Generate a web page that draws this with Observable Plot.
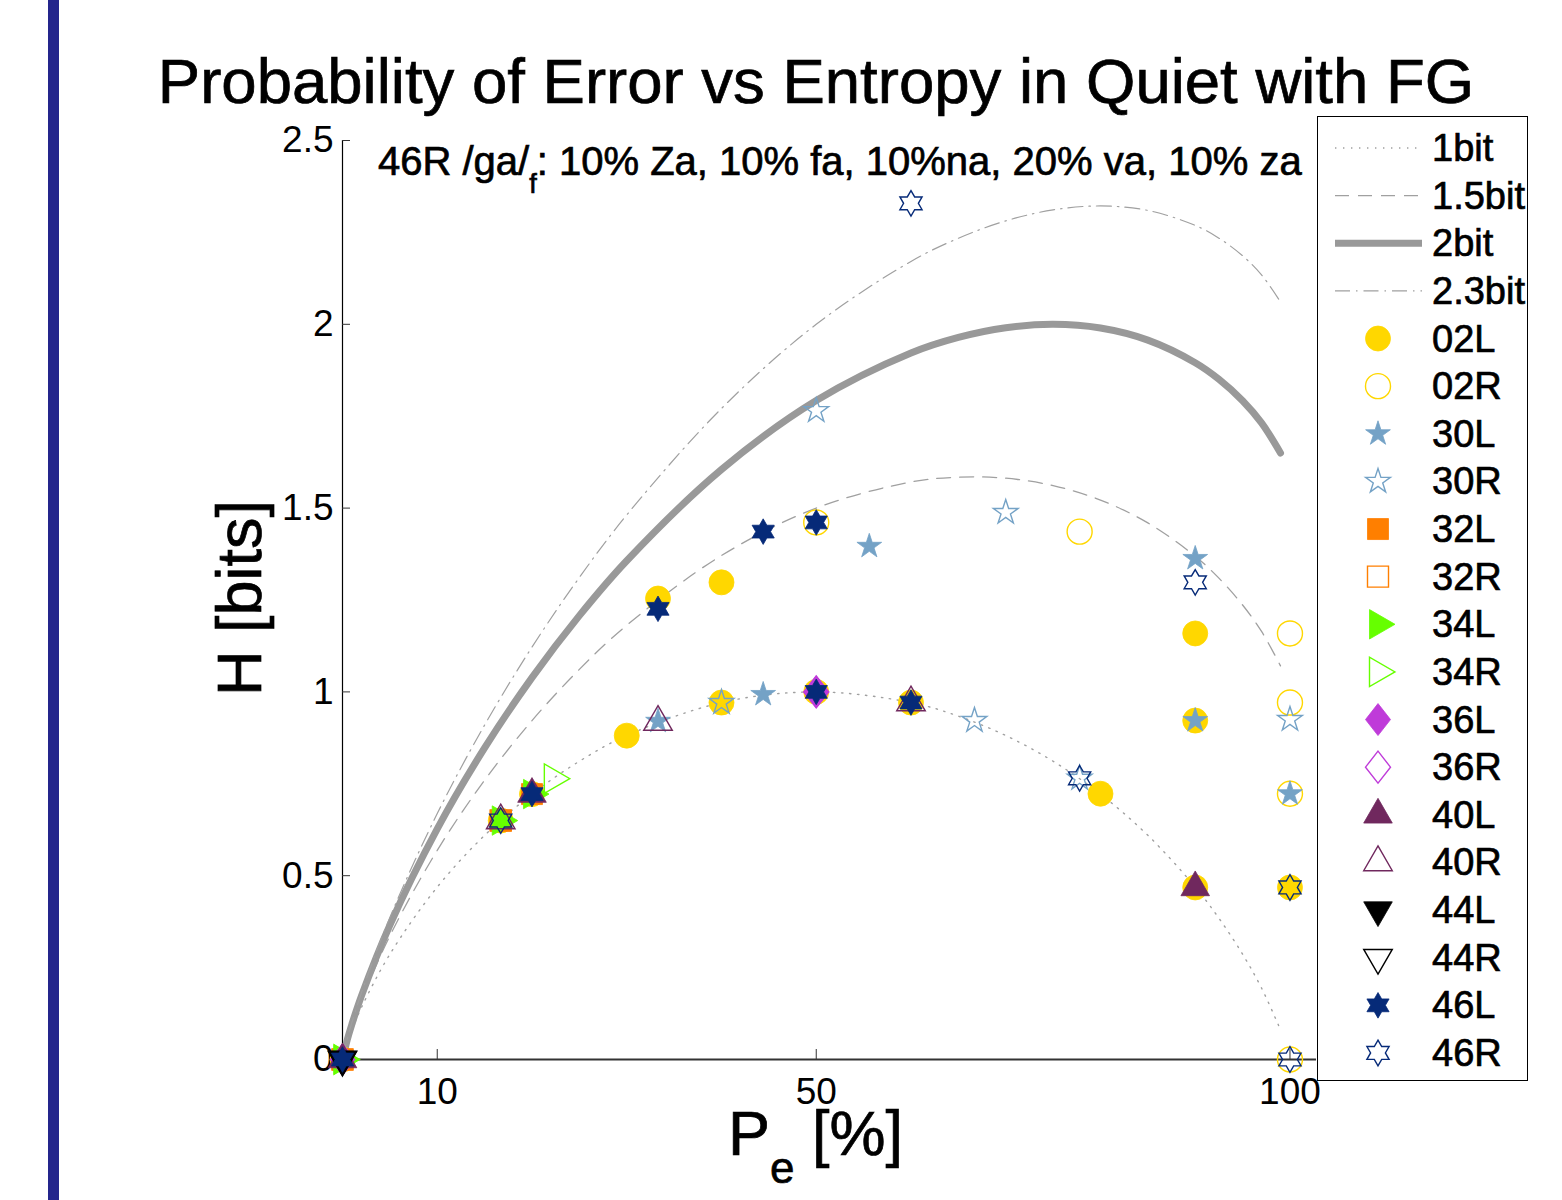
<!DOCTYPE html>
<html><head><meta charset="utf-8">
<script src="https://cdn.jsdelivr.net/npm/d3@7"></script>
<script src="https://cdn.jsdelivr.net/npm/@observablehq/plot@0.6"></script>
<style>
html,body{margin:0;padding:0;background:#fff;}
body{width:1562px;height:1200px;position:relative;overflow:hidden;font-family:"Liberation Sans",Arial,sans-serif;}
#chart{position:absolute;left:0;top:0;}
#bar{position:absolute;left:48px;top:0;width:11px;height:1200px;background:#24258c;z-index:3;}
#legend{position:absolute;left:1317px;top:116px;width:209px;height:963px;border:1.5px solid #000;background:#fff;overflow:hidden;z-index:2;}
.heavy{stroke:#000;stroke-width:0.7px;paint-order:stroke;}
</style></head>
<body>
<div id="bar"></div>
<div id="chart"></div>
<div id="legend"></div>
<script>
// ---------------- data ----------------
const xTicks = [10, 50, 100];
const yTicks = [0, 0.5, 1, 1.5, 2, 2.5];

const curveNames = ["1bit", "1.5bit", "2bit", "2.3bit"];
const curvePe = [0, 0.5, 1, 2, 5, 10, 15, 20, 25, 30, 40, 50, 60, 65, 70, 75, 80, 85, 90, 92.5, 95, 97, 99];
const h1bit  = [0, 0.0454, 0.0808, 0.1414, 0.2864, 0.469, 0.6098, 0.7219, 0.8113, 0.8813, 0.971, 1.0, 0.971, 0.9341, 0.8813, 0.8113, 0.7219, 0.6098, 0.469, 0.3844, 0.2864, 0.1944, 0.0808];
const h15bit = [0, 0.0504, 0.0908, 0.1614, 0.3364, 0.569, 0.7598, 0.9219, 1.0613, 1.1813, 1.371, 1.5, 1.571, 1.5841, 1.5813, 1.5613, 1.5219, 1.4598, 1.369, 1.3094, 1.2364, 1.1644, 1.0708];
const h2bit  = [0, 0.0533, 0.0967, 0.1731, 0.3657, 0.6275, 0.8476, 1.0389, 1.2075, 1.3568, 1.605, 1.7925, 1.922, 1.9644, 1.9908, 2.0, 1.9899, 1.957, 1.8955, 1.8505, 1.7922, 1.7318, 1.65];
const h23bit = [0, 0.0554, 0.1008, 0.1814, 0.3864, 0.669, 0.9098, 1.1219, 1.3113, 1.4813, 1.771, 2.0, 2.171, 2.2341, 2.2813, 2.3113, 2.3219, 2.3098, 2.269, 2.2344, 2.1864, 2.1344, 2.0608];

const seriesNames = ["02L","02R","30L","30R","32L","32R","34L","34R","36L","36R","40L","40R","44L","44R","46L","46R"];
const seriesColors = ["#FFD700","#FFD700","#74A2C6","#74A2C6","#FF7F00","#FF7F00","#66FF00","#66FF00","#BF3BD9","#BF3BD9","#70285E","#70285E","#000000","#000000","#062A78","#062A78"];
const seriesFilled = [true,false,true,false,true,false,true,false,true,false,true,false,true,false,true,false];
const seriesSymbols = ["circle","circle","pentagram","pentagram","square","square","triRight","triRight","diamond","diamond","triUp","triUp","triDown","triDown","hexagram","hexagram"];

// [Pe %, H bits]
const pts02L = [[0,0],[16.7,0.65],[20,0.722],[30,0.881],[33.3,1.254],[40,0.971],[40,1.298],[50,1.0],[60,0.971],[80,0.723],[90,1.159],[90,0.922],[90,0.468],[100,0.468]];
const pts02R = [[50,1.461],[77.8,1.436],[100,1.159],[100,0.971],[100,0.723],[100,0]];
const pts30L = [[33.3,0.92],[44.4,0.993],[55.6,1.396],[90,1.363],[90,0.922],[100,0.723]];
const pts30R = [[40,0.971],[50,1.765],[66.7,0.922],[70,1.488],[77.8,0.765],[100,0.925]];
const pts32L = [[0,0],[16.7,0.65],[20,0.722]];
const pts32R = [[0,0],[16.7,0.65]];
const pts34L = [[0,0],[16.7,0.65],[20,0.722]];
const pts34R = [[0,0],[22.2,0.764]];
const pts36L = [[0,0],[50,1.0]];
const pts36R = [[50,1.0]];
const pts40L = [[0,0],[20,0.722],[90,0.468]];
const pts40R = [[16.7,0.65],[33.3,0.918],[60,0.971]];
const pts44L = [[0,0]];
const pts44R = [[0,0]];
const pts46L = [[0,0],[20,0.722],[33.3,1.226],[44.4,1.436],[50,1.461],[50,1.0],[60,0.971]];
const pts46R = [[16.7,0.65],[60,2.329],[77.8,0.765],[90,1.298],[100,0.468],[100,0]];
const seriesPoints = [pts02L,pts02R,pts30L,pts30R,pts32L,pts32R,pts34L,pts34R,pts36L,pts36R,pts40L,pts40R,pts44L,pts44R,pts46L,pts46R];

// ---------------- styles ----------------
const curveStyles = [
  {stroke:"#a0a0a0", strokeWidth:1.4, strokeDasharray:"1.4,6.6"},
  {stroke:"#a0a0a0", strokeWidth:1.3, strokeDasharray:"14,9"},
  {stroke:"#999999", strokeWidth:7, strokeDasharray:null},
  {stroke:"#a0a0a0", strokeWidth:1.2, strokeDasharray:"15,6,1.5,6"}
];

function star(c, n, ro, ri) {
  for (let i = 0; i < 2*n; i++) {
    const a = -Math.PI/2 + i*Math.PI/n, rr = i % 2 ? ri : ro;
    const x = rr*Math.cos(a), y = rr*Math.sin(a);
    if (i) c.lineTo(x, y); else c.moveTo(x, y);
  }
  c.closePath();
}
const symbols = {
  circle:   {draw(c){ const r = 12.5; c.moveTo(r, 0); c.arc(0, 0, r, 0, 2*Math.PI); c.closePath(); }},
  pentagram:{draw(c){ star(c, 5, 13, 13*0.382); }},
  square:   {draw(c){ const s = 10.5; c.rect(-s, -s, 2*s, 2*s); }},
  triRight: {draw(c){ const r = 17; c.moveTo(r, 0); c.lineTo(-r/2, r*0.866); c.lineTo(-r/2, -r*0.866); c.closePath(); }},
  triUp:    {draw(c){ const r = 16.5; c.moveTo(0, -r); c.lineTo(r*0.866, r/2); c.lineTo(-r*0.866, r/2); c.closePath(); }},
  triDown:  {draw(c){ const r = 16.5; c.moveTo(0, r); c.lineTo(r*0.866, -r/2); c.lineTo(-r*0.866, -r/2); c.closePath(); }},
  diamond:  {draw(c){ c.moveTo(0, -16); c.lineTo(12.5, 0); c.lineTo(0, 16); c.lineTo(-12.5, 0); c.closePath(); }},
  hexagram: {draw(c){ star(c, 6, 12.8, 12.8/Math.sqrt(3)); }}
};

// ---------------- plot ----------------
const curveData = [h1bit, h15bit, h2bit, h23bit].map(hs => curvePe.map((p, i) => ({pe: p, h: hs[i]})));
const FONT = "Liberation Sans, Arial, Helvetica, sans-serif";

const marks = [
  Plot.ruleY([0], {stroke:"#333", strokeWidth:2}),
  Plot.ruleX([0], {stroke:"#000", strokeWidth:1.2}),
  Plot.axisX({ticks: xTicks, tickSize: -10, tickPadding: 28, tickFormat: d => String(d), label: null, fontSize: 37, stroke: "#333"}),
  Plot.axisY({ticks: yTicks, tickSize: -8, tickPadding: 17, tickFormat: d => String(d), label: null, fontSize: 37, stroke: "#333"})
];
curveData.forEach((cd, i) => {
  const s = curveStyles[i];
  marks.push(Plot.line(cd, {x: "pe", y: "h", curve: "catmull-rom", stroke: s.stroke, strokeWidth: s.strokeWidth, strokeDasharray: s.strokeDasharray}));
});
seriesPoints.forEach((pts, i) => {
  const col = seriesColors[i];
  marks.push(Plot.dot(pts, {
    x: d => d[0], y: d => d[1], r: 10,
    symbol: symbols[seriesSymbols[i]],
    fill: seriesFilled[i] ? col : "none",
    stroke: col,
    strokeWidth: seriesFilled[i] ? 0.8 : 1.4
  }));
});

const chart = Plot.plot({
  width: 1562, height: 1200,
  marginLeft: 342, marginRight: 246, marginTop: 140, marginBottom: 141,
  style: {fontFamily: FONT, color: "#000", background: "transparent", overflow: "visible"},
  x: {domain: [0, 102.8]},
  y: {domain: [0, 2.5]},
  marks
});
document.getElementById("chart").appendChild(chart);

// titles and axis labels
const svg = d3.select(chart);
svg.append("text").attr("class", "heavy").attr("x", 816).attr("y", 103).attr("text-anchor", "middle")
  .attr("font-family", FONT).attr("font-size", 63.5).attr("fill", "#000")
  .text("Probability of Error vs Entropy in Quiet with FG");

const sub = svg.append("text").attr("class", "heavy").attr("x", 378).attr("y", 175).attr("text-anchor", "start")
  .attr("font-family", FONT).attr("font-size", 40).attr("fill", "#000");
sub.append("tspan").text("46R /ga/");
sub.append("tspan").attr("font-size", 27).attr("dy", 18).text("f");
sub.append("tspan").attr("dy", -18).text(": 10% Za, 10% fa, 10%na, 20% va, 10% za");

svg.append("text").attr("class", "heavy").attr("transform", "translate(261,598) rotate(-90)").attr("text-anchor", "middle")
  .attr("font-family", FONT).attr("font-size", 63).attr("fill", "#000").text("H [bits]");

const xl = svg.append("text").attr("class", "heavy").attr("x", 728).attr("y", 1155).attr("text-anchor", "start")
  .attr("font-family", FONT).attr("font-size", 63).attr("fill", "#000");
xl.append("tspan").text("P");
xl.append("tspan").attr("font-size", 44).attr("dy", 28).text("e");
xl.append("tspan").attr("dy", -28).text(" [%]");

// ---------------- legend ----------------
const lg = d3.select("#legend").append("svg").attr("width", 209).attr("height", 963);
const rowY = i => 31 + i * 47.63;
curveNames.forEach((name, i) => {
  const s = curveStyles[i];
  lg.append("line").attr("x1", 17).attr("x2", 104).attr("y1", rowY(i)).attr("y2", rowY(i))
    .attr("stroke", s.stroke).attr("stroke-width", s.strokeWidth)
    .attr("stroke-dasharray", s.strokeDasharray);
  lg.append("text").attr("class", "heavy").attr("x", 114).attr("y", rowY(i) + 13).attr("font-family", FONT)
    .attr("font-size", 38).text(name);
});
seriesNames.forEach((name, j) => {
  const i = j + curveNames.length;
  const p = d3.path();
  symbols[seriesSymbols[j]].draw(p);
  lg.append("path").attr("d", p.toString()).attr("transform", `translate(60,${rowY(i)})`)
    .attr("fill", seriesFilled[j] ? seriesColors[j] : "none")
    .attr("stroke", seriesColors[j]).attr("stroke-width", seriesFilled[j] ? 0.8 : 1.4);
  lg.append("text").attr("class", "heavy").attr("x", 114).attr("y", rowY(i) + 13).attr("font-family", FONT)
    .attr("font-size", 38).text(name);
});
</script>
</body></html>
